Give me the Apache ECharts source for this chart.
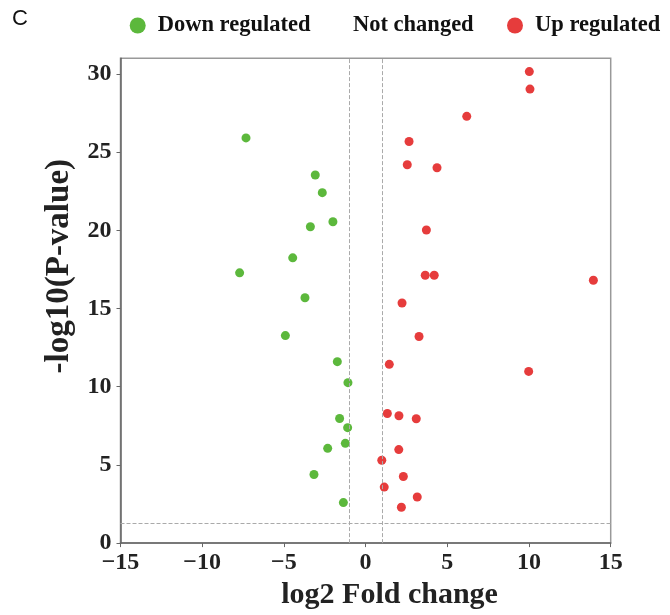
<!DOCTYPE html>
<html>
<head>
<meta charset="utf-8">
<script src="https://cdn.jsdelivr.net/npm/echarts@6/dist/echarts.min.js"></script>
<style>
html,body{margin:0;padding:0;background:#fff;}
#c{width:670px;height:615px;}
</style>
</head>
<body>
<div id="c"></div>
<script>
// Data
const seriesNames = ['Down regulated', 'Not changed', 'Up regulated'];
const downX = [-7.32, -3.08, -2.65, -2.00, -3.38, -4.46, -7.71, -3.71, -4.91, -1.73, -1.08, -1.59, -1.10, -1.24, -2.32, -3.16, -1.36];
const downY = [25.91, 23.54, 22.41, 20.55, 20.23, 18.24, 17.28, 15.69, 13.27, 11.60, 10.26, 7.97, 7.38, 6.38, 6.06, 4.39, 2.59];
const upX = [10.02, 10.06, 6.19, 2.66, 2.55, 4.37, 3.72, 3.65, 4.20, 13.94, 2.23, 3.27, 9.98, 1.45, 1.33, 2.04, 3.10, 2.03, 0.99, 2.31, 1.14, 3.16, 2.19];
const upY = [30.15, 29.03, 27.29, 25.68, 24.19, 24.00, 20.02, 17.13, 17.13, 16.81, 15.35, 13.21, 10.98, 11.43, 8.29, 8.14, 7.95, 5.98, 5.30, 4.26, 3.58, 2.95, 2.29];
const foldThresholds = [-1, 1];
const pThreshold = 1.3;
const xTicks = [-15, -10, -5, 0, 5, 10, 15];
const yTicks = [0, 5, 10, 15, 20, 25, 30];

const serif = "'Liberation Serif', 'Times New Roman', serif";
const downData = downX.map((x, i) => [x, downY[i]]);
const upData = upX.map((x, i) => [x, upY[i]]);

const legendBase = {
  top: 9, icon: 'circle', itemWidth: 30, itemHeight: 16, selectedMode: false,
  textStyle: { fontFamily: serif, fontWeight: 'bold', fontSize: 22.5, color: '#111' }
};
const legendLefts = [124.7, 320, 502];

const chart = echarts.init(document.getElementById('c'));
chart.setOption({
  animation: false,
  backgroundColor: '#fff',
  graphic: [{
    type: 'text', left: 12, top: 8,
    style: { text: 'C', font: "22px 'Liberation Sans', Arial, sans-serif", fill: '#111' }
  }],
  legend: seriesNames.map((n, i) => Object.assign({}, legendBase, { data: [n], left: legendLefts[i] })),
  grid: {
    left: 120.5, right: 59.3, top: 58.3, bottom: 69.5,
    show: true, borderColor: '#999', borderWidth: 1.5, backgroundColor: 'transparent'
  },
  xAxis: {
    type: 'value', min: xTicks[0], max: xTicks[xTicks.length - 1], interval: 5,
    name: 'log2 Fold change', nameLocation: 'middle', nameGap: 35,
    nameTextStyle: { fontFamily: serif, fontWeight: 'bold', fontSize: 30, color: '#222',
      padding: [0, 0, 0, 48] },
    axisLine: { onZero: false, lineStyle: { color: '#666', width: 1.5 } },
    axisTick: { show: true, length: 4, lineStyle: { color: '#666' } },
    axisLabel: { fontFamily: serif, fontWeight: 'bold', fontSize: 24, color: '#222', margin: 8,
      formatter: v => String(v).replace('-', '\u2212') },
    splitLine: { show: false }
  },
  yAxis: {
    type: 'value', min: 0, max: 31, interval: 5,
    name: '-log10(P-value)', nameLocation: 'middle', nameGap: 45,
    nameTextStyle: { fontFamily: serif, fontWeight: 'bold', fontSize: 33, color: '#222',
      padding: [0, 0, 0, 69] },
    axisLine: { onZero: false, lineStyle: { color: '#666', width: 1.5 } },
    axisTick: { show: true, length: 4, lineStyle: { color: '#666' } },
    axisLabel: { fontFamily: serif, fontWeight: 'bold', fontSize: 24, color: '#222', margin: 9,
      showMaxLabel: false },
    splitLine: { show: false }
  },
  series: [
    {
      name: seriesNames[0], type: 'scatter', data: downData, symbolSize: 9,
      itemStyle: { color: '#5cb83c', opacity: 1 },
      markLine: {
        silent: true, symbol: 'none', animation: false,
        label: { show: false },
        lineStyle: { type: 'dashed', color: '#aaa', width: 1 },
        data: [
          { xAxis: foldThresholds[0] },
          { xAxis: foldThresholds[1] },
          { yAxis: pThreshold }
        ]
      }
    },
    {
      name: seriesNames[1], type: 'scatter', data: [], symbolSize: 9,
      itemStyle: { color: 'rgba(0,0,0,0)' }
    },
    {
      name: seriesNames[2], type: 'scatter', data: upData, symbolSize: 9,
      itemStyle: { color: '#e63c3c', opacity: 1 }
    }
  ]
});
</script>
</body>
</html>
